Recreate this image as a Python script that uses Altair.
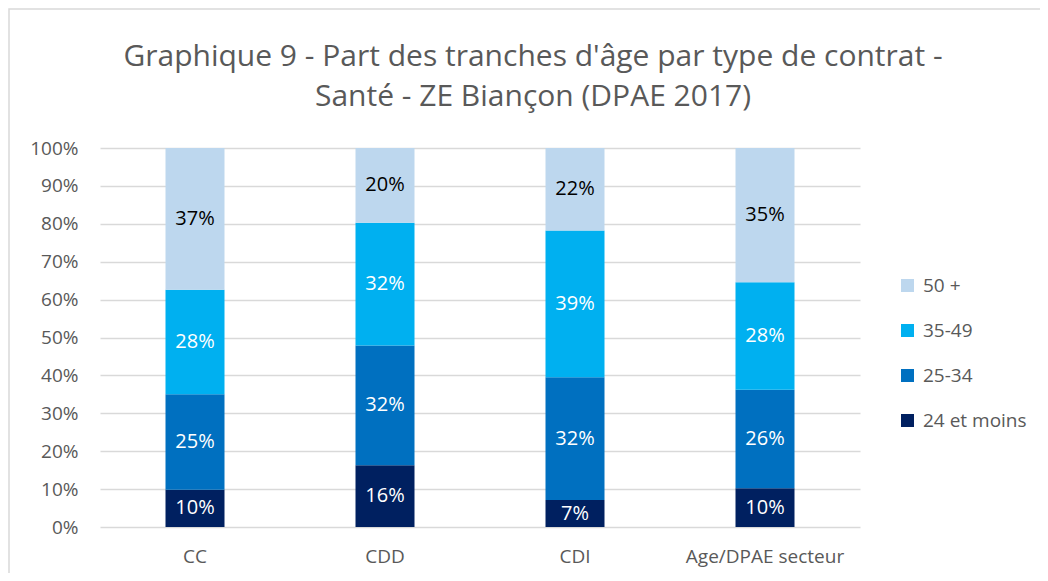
import altair as alt
import pandas as pd

contrats = ["CC", "CDD", "CDI", "Age/DPAE secteur"]
tranches = ["24 et moins", "25-34", "35-49", "50 +"]
v_24_moins = [0.098, 0.163, 0.071, 0.102]
v_25_34 = [0.252, 0.316, 0.324, 0.260]
v_35_49 = [0.276, 0.324, 0.387, 0.284]
v_50_plus = [0.374, 0.197, 0.218, 0.354]
couleurs = ["#002060", "#0070C0", "#00B0F0", "#BDD7EE"]
y_ticks = [0, 0.1, 0.2, 0.3, 0.4, 0.5, 0.6, 0.7, 0.8, 0.9, 1.0]
titre = ["Graphique 9 - Part des tranches d'âge par type de contrat -",
         "Santé - ZE Biançon (DPAE 2017)"]

series = [v_24_moins, v_25_34, v_35_49, v_50_plus]
rows = []
for ti, (t, vals) in enumerate(zip(tranches, series)):
    for c, v in zip(contrats, vals):
        rows.append({"contrat": c, "tranche": t, "ord": ti, "value": v})
df = pd.DataFrame(rows)

FONT = "Open Sans"
GREY = "#595959"

legend_order = ["50 +", "35-49", "25-34", "24 et moins"]
legend_colors = [couleurs[3], couleurs[2], couleurs[1], couleurs[0]]

base = alt.Chart(df).transform_stack(
    stack="value", as_=["v0", "v1"], groupby=["contrat"],
    sort=[alt.SortField("ord", order="ascending")]
).transform_calculate(mid="(datum.v0 + datum.v1) / 2")

x_axis = alt.Axis(labelAngle=0, labelFont=FONT, labelFontSize=19,
                  labelColor=GREY, ticks=False, domain=False, labelPadding=20)
x_scale = alt.Scale(paddingInner=0, paddingOuter=0)
y_axis = alt.Axis(values=y_ticks, format=".0%", labelFont=FONT,
                  labelFontSize=19, labelColor=GREY, ticks=False,
                  domain=False, labelPadding=22, gridColor="#d9d9d9",
                  gridWidth=1.5, labelOverlap=False)
y_scale = alt.Scale(domain=[0, 1], nice=False)

bars = base.mark_bar(size=59).encode(
    x=alt.X("contrat:N", sort=contrats, title=None, scale=x_scale, axis=x_axis),
    y=alt.Y("v0:Q", title=None, scale=y_scale, axis=y_axis),
    y2="v1:Q",
    color=alt.Color("tranche:N",
                    scale=alt.Scale(domain=legend_order, range=legend_colors),
                    legend=alt.Legend(title=None, orient="none", legendX=798,
                                      legendY=128, labelFont=FONT,
                                      labelFontSize=19, labelColor=GREY,
                                      symbolType="square", symbolSize=170,
                                      symbolStrokeWidth=0, rowPadding=25,
                                      labelOffset=6)),
)

labels = base.mark_text(font=FONT, fontSize=20).encode(
    x=alt.X("contrat:N", sort=contrats, title=None, scale=x_scale, axis=x_axis),
    y=alt.Y("mid:Q", title=None, scale=y_scale, axis=y_axis),
    text=alt.Text("value:Q", format=".0%"),
    color=alt.condition("datum.tranche == '50 +'", alt.value("black"),
                        alt.value("white")),
)

title_df = pd.DataFrame({"t": titre, "i": [0, 1]})
title1 = alt.Chart(title_df).transform_filter("datum.i == 0").mark_text(
    font=FONT, fontSize=30, color=GREY, baseline="middle", align="center"
).encode(text="t:N", x=alt.value(433), y=alt.value(-91))
title2 = alt.Chart(title_df).transform_filter("datum.i == 1").mark_text(
    font=FONT, fontSize=30, color=GREY, baseline="middle", align="center"
).encode(text="t:N", x=alt.value(433), y=alt.value(-51))

border = alt.Chart(pd.DataFrame({"k": [0]})).mark_rect(
    fill=None, stroke="#d9d9d9", strokeWidth=1.5
).encode(x=alt.value(-91), x2=alt.value(1100), y=alt.value(-139),
         y2=alt.value(432))

chart = alt.layer(border, bars, labels, title1, title2).properties(
    width=760, height=379,
    background="white",
    autosize=alt.AutoSizeParams(type="none"),
    padding={"left": 92, "top": 140, "right": 180, "bottom": 46},
).configure_view(stroke=None)

chart.save("out.html", embed_options={"renderer": "svg", "actions": False})
